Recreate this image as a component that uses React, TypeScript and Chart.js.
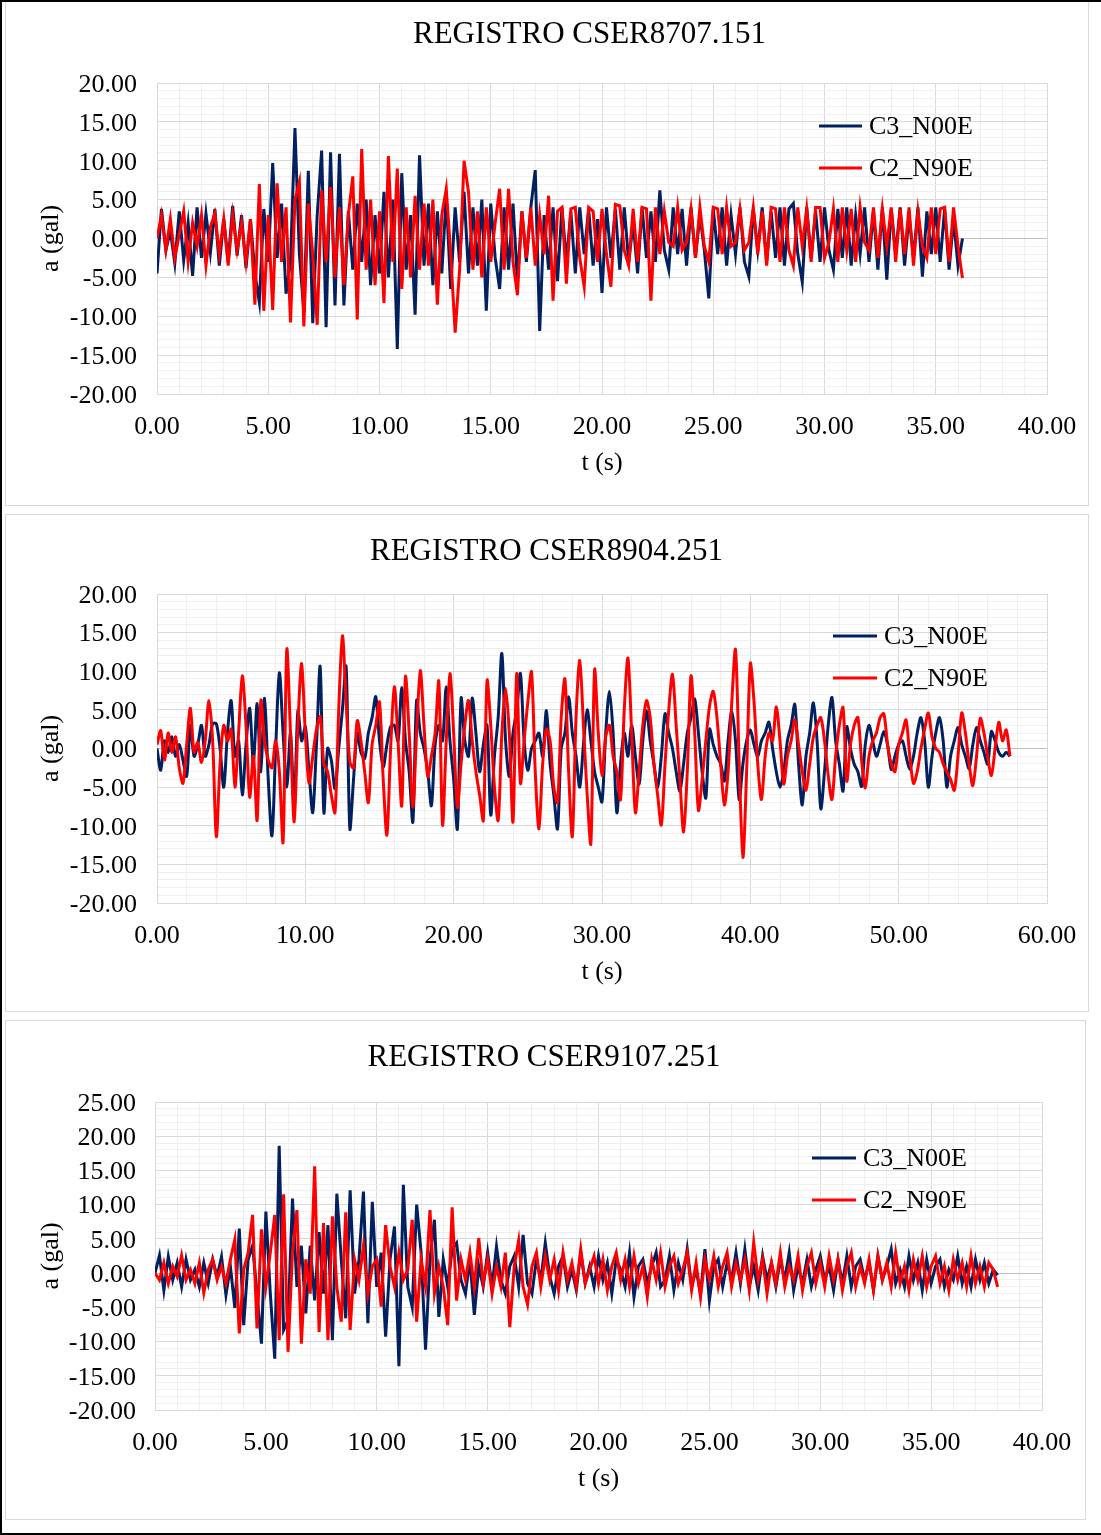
import React, { useEffect, useRef } from 'react';
import { Chart, registerables } from 'chart.js';

Chart.register(...registerables);

const FONT = '"Liberation Serif", "Times New Roman", Times, serif';

// ---------- texts ----------
const SERIES_LABELS = ['C3_N00E', 'C2_N90E'];
const TITLES = ['REGISTRO CSER8707.151', 'REGISTRO CSER8904.251', 'REGISTRO CSER9107.251'];
const X_TITLE = 't (s)';
const Y_TITLE = 'a (gal)';

// ---------- sampling steps (s) ----------
const P1_DT = 0.2;
const P2_DT = 0.25;
const P3_DT = 0.2;

// ---------- axis ranges [min, max, step, labelled every] ----------
const P1_X = [0, 40, 1, 5];
const P1_Y = [-20, 20, 1, 5];
const P2_X = [0, 60, 2, 10];
const P2_Y = [-20, 20, 1, 5];
const P3_X = [0, 40, 1, 5];
const P3_Y = [-20, 25, 1, 5];

// ---------- REGISTRO CSER8707.151 ----------
const P1_C3 = [
  -4.5, 3.8, -1.5, 1.0, -3.2, 3.5, -2.8, 2.0, -4.8, 4.0, -2.5, 3.2, -1.8, 3.8, -3.5, 2.5, -3.0, 4.2, -2.2, 3.0,
  -3.8, 2.5, -4.5, -8.2, 3.8, -3.0, 9.7, -2.5, 4.5, -7.1,
  -3.0, 14.2, -2.0, -9.4, 8.7, -10.9, 3.0, 11.3, -11.4, 11.1, -8.6, 10.9, -8.6, 3.5, -4.0, 4.5,
  -3.0, 5.0, -6.0, 3.0, -4.5, 6.0, -5.0, 5.0,
  -14.2, 8.4, -4.0, 3.0, -9.8, 10.7, -3.5, 4.5, -6.0, 3.5, -4.5, 5.5, -6.5, 4.0, -3.0, 6.0, -4.5, 4.0, -3.5, 5.0,
  -9.3, 4.5, -2.5, -6.5, 4.0, -4.0, 4.5, -5.5, 3.5, -3.0, 4.0, 8.8, -11.9, 3.0, -4.0, 4.0, -5.5,
  4.0, -3.0, 3.5, -4.5, 4.0, -2.0, 3.8, -3.5, 2.5, -7.0,
  4.0, -2.5, 3.8, -4.0, 4.0, -3.0, 2.0, -4.5, 4.0, -2.5,
  3.5, -3.0, 6.2, -1.5, -4.0, 4.0, -2.0, 3.8, -3.5, 4.0,
  -2.5, 3.0, -1.5, -7.7, 3.8, -2.0, 4.0, -3.5, 3.0, -2.0,
  4.0, -3.0, -4.9, 3.8, -1.5, 4.0, -3.0, 3.5, -2.5, 4.0,
  -3.5, 3.8, 4.5, -2.0, -5.6, 4.0, -2.5, 3.5, -3.0, 4.0,
  -1.5, -4.0, 3.8, -2.5, 4.0, -3.5, 3.0, -2.0, 4.0, -3.0,
  3.5, -4.0, 4.0, -5.3, 3.8, -2.0, 4.0, -3.5, 3.0, -2.5,
  4.0, -4.9, 3.5, -2.0, 4.0, -3.0, 3.8, -4.0, 2.5, -3.5,
  0.0,
];
const P1_C2 = [
  0.0, 3.0, -1.5, 2.5, -2.5, 0.5, 3.5, -3.0, 2.0, -1.0, 3.0, -3.5, 1.5, 3.2, -2.0, 2.5, -3.5, 3.0, -1.5, 2.0,
  -3.0, 2.5, -8.5, 7.0, -9.3, 3.0, -9.2, 7.1, -3.0, 4.0, -10.8,
  5.0, 7.3, -11.3, 4.5, -2.0, -11.1, 6.2, -3.0, 6.6, -5.0,
  4.0, -6.0, 3.0, 8.0, -10.4, 11.5, -4.0, 5.0, -6.0, 3.5,
  -8.3, 10.6, -3.0, 9.0, -6.5, 4.0, -5.0, 5.5, -4.0, 4.5,
  -3.5, 5.0, -8.5, 3.0, 6.4, -2.0, -12.1, -4.0, 10.0, 6.0,
  -4.0, 3.5, -5.0, 4.0, -3.0, 2.0, 6.4, -4.0, 6.4, -3.0,
  -7.3, 3.5, -2.5, 4.0, -3.5, 3.0, -2.0, 5.5, -8.0, 3.5,
  4.0, -5.8, 3.8, 4.0, -2.5, -6.2, 4.0, 3.5, -3.0, 3.8,
  -2.0, -6.2, 4.4, 4.2, -1.5, -3.5, 3.8, -3.0, 4.0, 3.8,
  -8.0, 4.0, -2.0, 3.5, -0.5, -1.0, 4.0, -1.5, -0.5, 3.8,
  -2.5, 4.0, -1.0, -3.0, 4.0, 3.8, -2.0, 4.0, -1.0, -0.5,
  3.8, -1.5, -0.5, 4.0, -2.0, 3.5, -3.5, 4.0, 3.8, -3.0,
  4.0, -1.5, -3.5, 4.0, -1.0, 3.8, -3.0, 4.0, 4.0, -2.5,
  -0.5, 3.8, -3.0, 4.0, -1.5, 3.8, -3.0, 4.0, -0.5, -1.5,
  4.0, -2.5, 3.8, -1.0, 4.0, -3.0, 3.8, -2.0, 4.0, -3.5,
  3.5, -1.0, -2.5, 4.0, -2.0, 3.8, 4.0, -3.0, 4.0, -1.0,
  -5.1,
];

// ---------- REGISTRO CSER8904.251 ----------
const P2_C3 = [
  0.0, -2.8, 1.0, -0.5, 1.5, -1.0, 0.5, -1.5, -3.6, 3.0, -1.0, 0.5, 3.0, -1.0, 0.5, 3.2,
  3.2, 0.0, -5.0, 2.0, 6.2, -1.0, 1.0, -6.0, 0.5, 5.2, -2.0, 5.8, -3.0, 6.5, -4.0, -11.3,
  0.0, 9.8, 2.0, -5.0, 2.0, -7.6, 4.9, 1.0, 2.8, -3.0, -8.3, 0.5, 10.6, -8.3, 0.0, -1.5,
  -5.2, 0.0, 5.0, 10.6, -10.4, -4.0, 2.0, -0.5, -1.3, 2.0, 4.0, 6.7, 1.0, -2.4, 0.5, 2.8,
  3.0, 1.0, 7.9, 1.0, -3.0, -9.5, 6.2, 2.0, 0.0, -3.0, -7.4, 0.5, 3.0, 1.0, 8.0, 1.0,
  -4.0, -10.4, 6.5, 1.0, -1.0, 6.5, 2.0, -3.0, 0.5, 3.0, -8.6, -1.0, 4.0, 12.3, 1.0, -3.6,
  2.0, 5.0, 9.7, 1.0, -2.8, 0.0, 1.0, 2.0, -1.0, 4.9, -2.0, -6.0, -10.4, 0.0, 2.0, 6.7,
  2.0, -1.0, -5.0, 0.5, 5.0, 1.0, -3.0, -5.0, -6.9, 2.0, 7.4, 2.0, -8.3, -2.0, 2.0, -1.0,
  3.0, -1.0, -4.6, 1.0, 4.9, 1.0, -2.0, -5.0, -1.0, 4.5, 2.0, 0.0, -3.0, -5.5, -2.0, 2.0,
  4.0, 6.4, 2.0, -3.0, -6.4, 2.5, 0.5, -1.0, -2.0, -4.2, 1.0, 4.9, 1.0, -6.6, -2.0, 1.0,
  2.4, 0.5, -1.0, 1.0, 2.0, 3.4, 0.0, -3.0, -5.0, -3.0, 1.0, 3.0, 5.7, -2.0, -7.3, -1.0,
  2.0, 5.9, 1.0, -7.8, -3.0, 3.0, 6.6, 1.0, -2.0, -5.5, 2.8, 0.0, -2.0, -3.0, -4.9, 0.5,
  3.0, 1.0, -1.0, 0.5, 2.2, 0.5, -2.7, -1.0, 0.5, 1.0, -1.0, -2.7, -1.0, 2.0, 4.0, 1.0,
  -5.0, -1.0, 2.0, 4.0, 1.0, -5.0, -1.0, 1.0, 2.7, 0.5, -1.0, -2.6, 0.5, 2.7, 1.0, -0.5,
  -2.0, 2.2, 1.0, -0.5, -1.0, -0.5, -1.0,
];
const P2_C2 = [
  0.5, 2.3, -1.5, 2.0, -0.5, 1.5, -2.5, -4.5, 0.5, 5.2, -0.5, 0.8, -1.8, 1.0, 6.2, 1.0,
  -11.4, -2.0, 3.0, 1.0, 2.5, -5.0, 2.0, 9.4, 3.0, -6.3, -1.0, -9.3, 6.2, 1.0, -1.5, -2.5,
  1.0, -3.0, -12.1, 12.8, 2.0, -9.5, 3.0, 11.0, 2.0, -4.5, -1.0, 2.5, 4.1, -2.0, -3.0, -6.0,
  -8.3, 5.0, 14.6, 6.0, -1.7, -2.5, 3.6, 1.0, -3.0, -7.0, 0.5, 3.0, 6.0, -4.0, -11.2, 0.0,
  8.0, 1.0, -7.4, 9.3, 2.0, -7.6, 2.0, 10.1, 3.0, -3.6, -1.0, 2.0, 8.7, -9.9, 1.0, 9.7,
  2.0, -7.6, -2.0, 3.0, 6.2, 1.0, -3.0, -6.0, -9.3, 8.8, 3.0, -5.0, -9.3, 2.0, 7.8, 2.0,
  -9.5, 9.7, -4.5, 1.0, 6.0, 9.9, -3.0, -10.4, -2.0, 2.5, 1.0, -5.0, -7.0, 4.0, 9.0, -3.0,
  -11.4, 4.0, 11.4, 3.0, -6.0, -12.3, 10.2, 2.0, -3.5, 1.5, 3.0, -1.0, -3.0, -6.6, 5.0, 11.7,
  2.0, -8.3, -3.0, 3.0, 6.2, 4.0, -2.0, -6.0, -9.9, -2.0, 5.0, 9.6, 3.0, -4.0, -10.8, -3.0,
  9.4, 2.0, -8.0, -4.0, 1.0, 5.5, 7.4, 4.0, -2.0, -7.3, -3.0, 6.0, 12.8, -2.0, -14.1, -3.0,
  11.0, 6.0, -2.0, -6.6, -1.0, 2.0, 1.0, 5.4, 1.0, -4.6, -1.0, 1.0, 3.7, 0.5, -3.0, -5.4,
  -2.0, 1.5, 3.0, 4.0, 1.0, -3.5, -6.6, -1.0, 3.0, 5.3, -4.2, 0.5, 3.0, 4.0, -1.5, -5.1,
  -1.0, 1.0, 2.0, 4.0, 4.5, 0.5, -2.0, -3.0, 0.5, 2.0, 3.7, -1.0, -4.5, -3.0, 0.0, 2.5,
  4.6, 1.5, 0.0, -0.5, -2.0, -3.0, -4.0, -5.4, -1.0, 4.6, 2.0, -2.0, -4.8, -1.0, 3.9, 2.0,
  -1.0, -3.5, 0.0, 3.4, 1.0, 2.4, -1.0,
];

// ---------- REGISTRO CSER9107.251 ----------
const P3_C3 = [
  0.0, 2.6, -2.5, 2.4, -1.0, 1.5, -2.0, 2.0, -1.0, 0.5, -2.0, 1.5, -1.5, 2.0, -0.5,
  2.4, -3.2, 1.0, -5.1, 6.5, -7.6, 2.0, 4.0, -3.0, -10.3, 9.0, -3.0, -12.5, 18.6, -8.3,
  -6.9, 10.9, -2.0, 4.0, -5.9, 4.0, -4.0, 6.0, -3.0, 7.0, -9.8, 11.6, 2.0, -6.6, 12.1,
  -3.0, 2.0, 11.9, -7.3, 10.4, -2.0, 3.0, -9.3, 2.0, 6.8, -13.6, 12.9, -2.0, -5.0, 10.0,
  3.0, -11.2, 2.0, 7.8, -6.4, 2.0, -2.0, 3.5, 4.4, -1.0, -3.0, 2.0, -6.1, 1.0, -2.0,
  3.0, -2.0, 3.9, -1.0, -3.0, 1.0, 2.5, -2.0, 5.6, -1.5, -3.0, 2.0, -1.0, 4.4, -0.5,
  -3.0, 1.0, 2.5, -2.0, 0.5, -2.5, 3.0, -1.5, 1.0, -2.0, 2.5, -1.0, 1.5, -3.0, 2.0,
  0.5, -2.0, 3.0, -3.5, 1.0, 2.0, -1.5, 1.0, 3.0, -2.0, -1.0, 2.5, -2.5, 1.5, -1.0,
  3.5, -2.0, 0.5, -3.0, 3.5, -4.0, 1.0, 2.0, -2.0, 1.5, -1.0, 3.0, -1.5, 3.5, -2.0,
  1.0, -2.5, 2.5, -1.0, 1.5, -2.0, 2.0, -1.0, 3.0, -2.5, 1.0, -1.5, 2.0, -2.0, 0.5,
  2.5, -1.0, 1.0, -2.5, 2.0, -1.5, 2.5, -2.0, 1.0, 2.0, -1.0, 1.5, -2.5, 2.5, -1.0,
  1.0, 3.5, -1.5, 0.5, -2.0, 2.5, -1.0, 1.5, -2.5, 2.0, -1.5, 1.0, 2.0, -2.0, 0.5,
  -1.0, 2.5, -1.5, 1.0, -2.0, 2.0, -1.0, 1.5, -1.5, 0.5, -0.3,
];
const P3_C2 = [
  0.0, -1.0, 1.5, -1.5, 1.0, -0.5, 2.6, -1.0, 0.5, -1.5, 1.5, -2.9, 0.5, 2.0, -1.0,
  1.0, -1.5, 2.0, 4.9, -8.8, 0.5, 3.0, 8.5, -8.1, 6.4, -2.0, 3.0, 8.5, -9.8, 11.5,
  -11.5, 3.0, 9.2, -10.3, 2.0, -3.0, 15.6, -8.6, 7.3, -9.8, 8.3, -2.0, -7.1, 8.9, -8.3,
  2.0, -1.0, 4.0, -3.0, 1.0, 2.0, -4.9, 7.0, 1.0, -2.0, 3.0, -1.0, 0.5, 7.8, -7.1,
  2.0, -2.0, 9.2, -3.0, 1.0, -2.0, -7.6, 9.6, -4.0, 2.0, -1.0, 3.0, -2.0, 5.1, -1.5,
  2.0, -3.0, 1.0, -2.0, 3.0, -7.9, 1.0, 4.8, -2.0, -4.6, 1.0, 3.0, -2.0, 2.5, -1.0,
  2.0, -2.5, 3.0, -1.0, 1.5, -2.0, 3.5, -1.5, 0.5, 2.5, -1.5, 2.0, -2.5, 1.0, 3.0,
  -1.0, 2.0, -2.0, 2.5, -1.5, 1.0, -3.5, 2.0, -1.0, 3.0, -2.0, 1.0, 2.5, -1.5, 0.5,
  3.0, -2.5, 1.5, -3.5, 2.0, -1.0, 2.5, -2.0, 1.0, 3.0, -2.0, 1.5, -1.0, 2.0, -2.5,
  4.5, -1.0, 2.0, -3.0, 1.5, -1.5, 3.0, -2.0, 1.0, -1.0, 2.5, -2.5, 1.0, 3.0, -1.5,
  1.5, -2.0, 2.5, -1.0, 2.0, -2.5, 1.0, 3.0, -2.0, 1.0, -1.5, 2.0, -2.5, 2.5, -1.0,
  1.5, -2.0, 3.0, -1.5, 1.0, -2.5, 2.0, -1.0, 2.5, -2.0, 1.0, 2.5, -1.5, 1.0, -2.5,
  2.0, -1.0, 1.5, -2.0, 2.5, -1.5, 1.0, -2.0, 1.5, 0.5, -2.0,
];

// ---------- styling / layout ----------
const COLORS = ['#002060', '#FF0000'];
const MAJOR_GRID = '#d9d9d9';
const MINOR_GRID = '#efefef';
const ZERO_LINE = '#bfbfbf';

type PanelSpec = {
  title: string;
  c3: number[];
  c2: number[];
  dt: number;
  xr: number[];
  yr: number[];
  tension: number;
  box: { left: number; top: number; width: number; height: number };
  canvas: { left: number; top: number; width: number; height: number };
  yAxisW: number;
  rightW: number;
  xAxisH: number;
  titlePad: [number, number];
  yTickPad: number;
  xTickPad: number;
  xTitlePadB: number;
  yTitlePadT: number;
  legend: { x: number; y: number; gap: number; len: number };
};

const PANELS: PanelSpec[] = [
  {
    title: TITLES[0], c3: P1_C3, c2: P1_C2, dt: P1_DT, xr: P1_X, yr: P1_Y, tension: 0,
    box: { left: 5, top: 0, width: 1084, height: 506 },
    canvas: { left: 20, top: 0, width: 1139, height: 505 },
    yAxisW: 137, rightW: 112, xAxisH: 111,
    titlePad: [16.4, 29.4], yTickPad: 20, xTickPad: 17.4, xTitlePadB: 26.4, yTitlePadT: 15.4,
    legend: { x: 799, y: 126, gap: 42, len: 43 },
  },
  {
    title: TITLES[1], c3: P2_C3, c2: P2_C2, dt: P2_DT, xr: P2_X, yr: P2_Y, tension: 0.3,
    box: { left: 5, top: 514, width: 1084, height: 498 },
    canvas: { left: 8, top: 514, width: 1077, height: 497 },
    yAxisW: 149, rightW: 38, xAxisH: 108,
    titlePad: [19.4, 23.4], yTickPad: 20, xTickPad: 17.4, xTitlePadB: 23.4, yTitlePadT: 27.4,
    legend: { x: 825, y: 122, gap: 42, len: 44 },
  },
  {
    title: TITLES[2], c3: P3_C3, c2: P3_C2, dt: P3_DT, xr: P3_X, yr: P3_Y, tension: 0,
    box: { left: 5, top: 1020, width: 1081, height: 500 },
    canvas: { left: 8, top: 1020, width: 1072, height: 499 },
    yAxisW: 147, rightW: 38, xAxisH: 109,
    titlePad: [19.4, 25.4], yTickPad: 19, xTickPad: 17.4, xTitlePadB: 24.4, yTitlePadT: 27.4,
    legend: { x: 804, y: 138, gap: 42, len: 44 },
  },
];

const inlineLegend = {
  id: 'inlineLegend',
  afterDraw(chart: any, _args: any, opts: any) {
    const ctx = chart.ctx;
    ctx.save();
    ctx.font = `26px ${FONT}`;
    ctx.textBaseline = 'middle';
    ctx.textAlign = 'left';
    chart.data.datasets.forEach((ds: any, i: number) => {
      const y = opts.y + i * opts.gap;
      ctx.strokeStyle = ds.borderColor;
      ctx.lineWidth = ds.borderWidth;
      ctx.beginPath();
      ctx.moveTo(opts.x, y);
      ctx.lineTo(opts.x + opts.len, y);
      ctx.stroke();
      ctx.fillStyle = '#000';
      ctx.fillText(ds.label, opts.x + opts.len + 7, y + 1);
    });
    ctx.restore();
  },
};

function toPoints(vals: number[], dt: number) {
  return vals.map((v, i) => ({ x: +(i * dt).toFixed(3), y: v }));
}

function gridColor(major: number, isY: boolean) {
  return (ctx: any) => {
    const v = ctx.tick ? ctx.tick.value : 0;
    if (isY && Math.abs(v) < 1e-9) return ZERO_LINE;
    return Math.abs(v % major) < 1e-9 ? MAJOR_GRID : MINOR_GRID;
  };
}

function makeConfig(p: PanelSpec): any {
  const tickFont = { family: FONT, size: 26 };
  return {
    type: 'line',
    data: {
      datasets: [
        {
          label: SERIES_LABELS[0], data: toPoints(p.c3, p.dt), borderColor: COLORS[0], backgroundColor: COLORS[0],
          borderWidth: 3, pointRadius: 0, tension: p.tension, fill: false, order: 2,
        },
        {
          label: SERIES_LABELS[1], data: toPoints(p.c2, p.dt), borderColor: COLORS[1], backgroundColor: COLORS[1],
          borderWidth: 3, pointRadius: 0, tension: p.tension, fill: false, order: 1,
        },
      ],
    },
    options: {
      responsive: false,
      animation: false,
      devicePixelRatio: 1,
      events: [],
      layout: { padding: 0 },
      plugins: {
        legend: { display: false },
        tooltip: { enabled: false },
        title: {
          display: true, text: p.title, color: '#000',
          font: { family: FONT, size: 31, weight: 'normal' },
          padding: { top: p.titlePad[0], bottom: p.titlePad[1] },
        },
        inlineLegend: p.legend,
      },
      scales: {
        x: {
          type: 'linear', position: 'bottom', min: p.xr[0], max: p.xr[1],
          ticks: {
            stepSize: p.xr[2], autoSkip: false, maxRotation: 0, minRotation: 0, maxTicksLimit: 1000,
            padding: p.xTickPad, font: tickFont, color: '#000',
            callback: (v: number) => (Math.abs(v % p.xr[3]) < 1e-9 ? v.toFixed(2) : ''),
          },
          grid: { drawTicks: false, color: gridColor(p.xr[3], false), lineWidth: 1 },
          border: { display: true, color: MAJOR_GRID },
          title: { display: true, text: X_TITLE, color: '#000', font: tickFont, padding: { top: 0, bottom: p.xTitlePadB } },
          afterFit: (s: any) => { s.height = p.xAxisH; s.paddingLeft = 0; s.paddingRight = 0; },
        },
        y: {
          type: 'linear', position: 'left', min: p.yr[0], max: p.yr[1],
          ticks: {
            stepSize: p.yr[2], autoSkip: false, maxTicksLimit: 1000, labelOffset: 2,
            padding: p.yTickPad, font: tickFont, color: '#000',
            callback: (v: number) => (Math.abs(v % p.yr[3]) < 1e-9 ? v.toFixed(2) : ''),
          },
          grid: { drawTicks: false, color: gridColor(p.yr[3], true), lineWidth: 1 },
          border: { display: true, color: MAJOR_GRID },
          title: { display: true, text: Y_TITLE, color: '#000', font: tickFont, padding: { top: p.yTitlePadT, bottom: 0 } },
          afterFit: (s: any) => { s.width = p.yAxisW; s.paddingTop = 0; s.paddingBottom = 0; },
        },
        yR: {
          type: 'linear', position: 'right', display: true,
          ticks: { display: false }, grid: { display: false, drawTicks: false }, border: { display: false },
          afterFit: (s: any) => { s.width = p.rightW; s.paddingTop = 0; s.paddingBottom = 0; },
        },
      },
    },
    plugins: [inlineLegend],
  };
}

function ChartPanel({ spec }: { spec: PanelSpec }) {
  const ref = useRef<HTMLCanvasElement>(null);
  useEffect(() => {
    if (!ref.current) return;
    const chart = new Chart(ref.current, makeConfig(spec));
    return () => chart.destroy();
  }, [spec]);
  const c = spec.canvas;
  return (
    <canvas
      ref={ref}
      width={c.width}
      height={c.height}
      style={{ position: 'absolute', left: c.left, top: c.top, width: c.width, height: c.height }}
    />
  );
}

export default function App() {
  return (
    <div style={{ position: 'absolute', left: 0, top: 0, width: 1101, height: 1535, overflow: 'hidden', background: '#fff' }}>
      {PANELS.map((p, i) => (
        <div
          key={'b' + i}
          style={{
            position: 'absolute', left: p.box.left, top: p.box.top, width: p.box.width, height: p.box.height,
            border: '1px solid #d9d9d9', boxSizing: 'border-box', background: '#fff',
          }}
        />
      ))}
      {PANELS.map((p, i) => (
        <ChartPanel key={'c' + i} spec={p} />
      ))}
      <div
        style={{
          position: 'absolute', left: 0, top: 0, width: 1101, height: 1535, boxSizing: 'border-box',
          borderLeft: '2px solid #000', borderTop: '2px solid #000', borderBottom: '2px solid #000',
          pointerEvents: 'none',
        }}
      />
    </div>
  );
}
